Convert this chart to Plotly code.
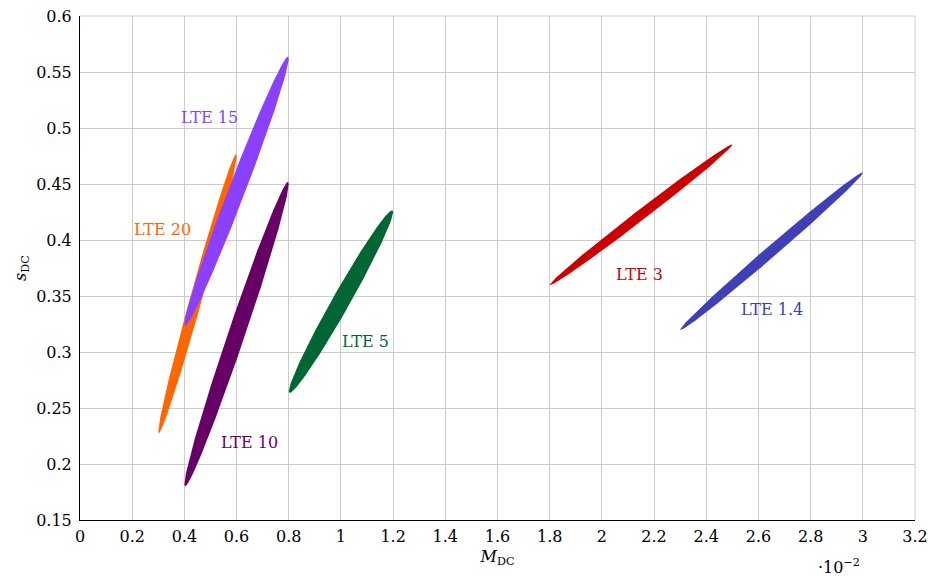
import numpy as np
import plotly.graph_objects as go

# ---- data (x in units of 1e-2) ----
labels   = ["LTE 1.4", "LTE 3", "LTE 5", "LTE 10", "LTE 20", "LTE 15"]
x_lo     = [2.3, 1.8, 0.8, 0.4, 0.3, 0.4]
x_hi     = [3.0, 2.5, 1.2, 0.8, 0.6, 0.8]
y_lo     = [0.32, 0.36, 0.265, 0.182, 0.229, 0.325]
y_hi     = [0.46, 0.485, 0.425, 0.45, 0.475, 0.562]
width_x  = [0.065, 0.065, 0.077, 0.068, 0.048, 0.068]   # horizontal width through centre
label_x  = [2.651, 2.146, 1.096, 0.648, 0.318, 0.498]
label_y  = [0.338, 0.369, 0.309, 0.2196, 0.409, 0.509]
colors   = ["#3f3fb8", "#cc0000", "#006633", "#660066", "#ff6600", "#8c40ff"]

x_ticks = [0, 0.2, 0.4, 0.6, 0.8, 1, 1.2, 1.4, 1.6, 1.8, 2, 2.2, 2.4, 2.6, 2.8, 3, 3.2]
y_ticks = [0.15, 0.2, 0.25, 0.3, 0.35, 0.4, 0.45, 0.5, 0.55, 0.6]

FONT = "DejaVu Serif"
FS = 16
fig = go.Figure()

t = np.linspace(0, 2 * np.pi, 400)
for i, name in enumerate(labels):
    cx = (x_lo[i] + x_hi[i]) / 2
    cy = (y_lo[i] + y_hi[i]) / 2
    ax = (x_hi[i] - x_lo[i]) / 2
    s = min(width_x[i] / (2 * ax), 0.99)
    phi = np.arcsin(s)
    ay = (y_hi[i] - y_lo[i]) / 2 / np.cos(phi)
    xs = cx + ax * np.cos(t)
    ys = cy + ay * np.cos(t - phi)
    fig.add_trace(go.Scatter(x=xs, y=ys, mode="lines", fill="toself",
                             fillcolor=colors[i], line=dict(width=0, color=colors[i]),
                             name=name, showlegend=False, hoverinfo="skip"))
    fig.add_annotation(x=label_x[i], y=label_y[i], text=name, showarrow=False,
                       font=dict(family=FONT, size=FS, color=colors[i]),
                       xref="x", yref="y")

# exponent note below the x axis
fig.add_annotation(xref="paper", yref="paper", x=(839 - 80) / 835, y=-(566 - 520) / 504,
                   xanchor="center", yanchor="middle", showarrow=False,
                   text="·10<sup>−2</sup>", font=dict(family=FONT, size=FS, color="black"))

# light border on top and right
fig.add_shape(type="line", xref="paper", yref="paper", x0=0, x1=1, y0=1, y1=1,
              line=dict(color="#cccccc", width=1))
fig.add_shape(type="line", xref="paper", yref="paper", x0=1, x1=1, y0=0, y1=1,
              line=dict(color="#cccccc", width=1))

fig.update_layout(
    width=928, height=576,
    margin=dict(l=80, r=13, t=16, b=56),
    plot_bgcolor="white", paper_bgcolor="white",
    font=dict(family=FONT, size=FS, color="black"),
    xaxis=dict(range=[0, 3.2], tickvals=x_ticks, ticktext=[f"{v:g}" for v in x_ticks],
               showgrid=True, gridcolor="#cccccc", gridwidth=1, automargin=False,
               showline=True, linecolor="black", linewidth=1, zeroline=False,
               ticks="", ticklabelstandoff=2, tickfont=dict(family=FONT, size=FS),
               title=dict(text="<i>M</i><sub>DC</sub>", standoff=5,
                          font=dict(family=FONT, size=FS))),
    yaxis=dict(range=[0.15, 0.6], tickvals=y_ticks, ticktext=[f"{v:g}" for v in y_ticks],
               showgrid=True, gridcolor="#cccccc", gridwidth=1, automargin=False,
               showline=True, linecolor="black", linewidth=1, zeroline=False,
               ticks="", ticklabelstandoff=4, tickfont=dict(family=FONT, size=FS),
               title=dict(text="<i>s</i><sub>DC</sub>", standoff=5,
                          font=dict(family=FONT, size=FS))),
)

fig.write_html("out.html", config={"displayModeBar": False},
               post_script="document.body.style.margin='0';")
